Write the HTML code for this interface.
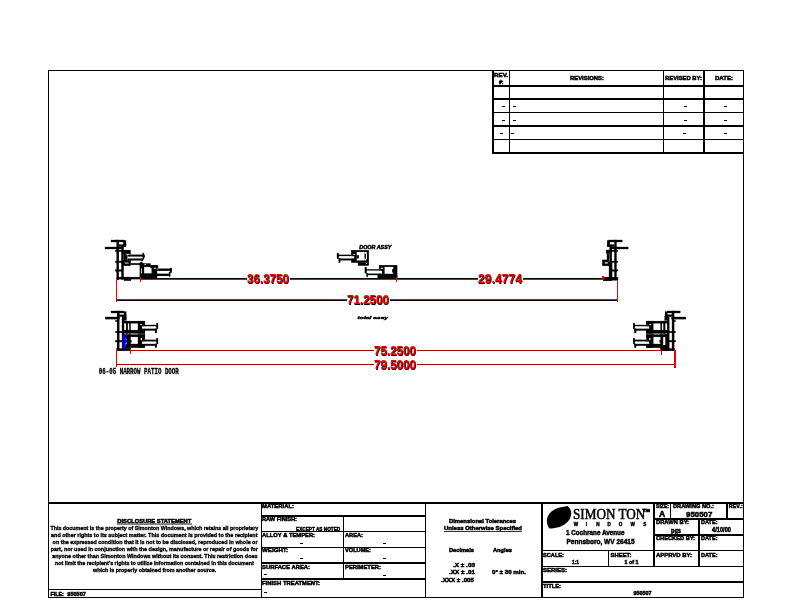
<!DOCTYPE html>
<html><head><meta charset="utf-8"><title>950507</title>
<style>
html,body{margin:0;padding:0;background:#fff;}
body{width:792px;height:612px;overflow:hidden;font-family:"Liberation Sans",sans-serif;}
svg{display:block;filter:contrast(1);}

</style></head><body>
<svg width="792" height="612" viewBox="0 0 792 612">
<rect x="0" y="0" width="792" height="612" fill="#fff"/>
<g shape-rendering="crispEdges">
<rect x="48" y="70" width="1" height="528" fill="#000" />
<rect x="743" y="70" width="1" height="528" fill="#000" />
<rect x="48" y="70" width="696" height="1" fill="#000" />
<rect x="48" y="597" width="696" height="1" fill="#000" />
<rect x="48" y="502" width="696" height="2" fill="#000" />
<rect x="48" y="589" width="213" height="1" fill="#000" />
<rect x="261" y="502" width="1" height="95" fill="#000" />
<rect x="261" y="515" width="164" height="2" fill="#000" />
<rect x="261" y="531" width="164" height="1" fill="#000" />
<rect x="261" y="547" width="164" height="1" fill="#000" />
<rect x="261" y="562" width="164" height="2" fill="#000" />
<rect x="261" y="578" width="164" height="2" fill="#000" />
<rect x="343" y="515" width="1" height="64" fill="#000" />
<rect x="425" y="502" width="1" height="95" fill="#000" />
<rect x="541" y="502" width="2" height="95" fill="#000" />
<rect x="541" y="550" width="203" height="1" fill="#000" />
<rect x="541" y="566" width="203" height="1" fill="#000" />
<rect x="541" y="581" width="203" height="2" fill="#000" />
<rect x="608" y="550" width="1" height="16" fill="#000" />
<rect x="653" y="502" width="2" height="65" fill="#000" />
<rect x="653" y="518" width="91" height="2" fill="#000" />
<rect x="653" y="534" width="91" height="2" fill="#000" />
<rect x="670" y="502" width="1" height="16" fill="#000" />
<rect x="726" y="502" width="2" height="16" fill="#000" />
<rect x="698" y="518" width="2" height="49" fill="#000" />
<rect x="492" y="70" width="2" height="83" fill="#000" />
<rect x="509" y="70" width="1" height="83" fill="#000" />
<rect x="663" y="70" width="1" height="83" fill="#000" />
<rect x="703" y="70" width="2" height="83" fill="#000" />
<rect x="492" y="85" width="252" height="2" fill="#000" />
<rect x="492" y="98" width="252" height="2" fill="#000" />
<rect x="492" y="112" width="252" height="1" fill="#000" />
<rect x="492" y="125" width="252" height="2" fill="#000" />
<rect x="492" y="139" width="252" height="1" fill="#000" />
<rect x="492" y="152" width="252" height="2" fill="#000" />
</g>
<text x="262" y="507.6" font-size="6" font-weight="bold" text-anchor="start" fill="#000" style="font-family:&quot;Liberation Sans&quot;" textLength="32" lengthAdjust="spacingAndGlyphs" stroke="#000" stroke-width="0.5" >MATERIAL:</text>
<text x="262" y="520.7" font-size="6" font-weight="bold" text-anchor="start" fill="#000" style="font-family:&quot;Liberation Sans&quot;" textLength="35" lengthAdjust="spacingAndGlyphs" stroke="#000" stroke-width="0.5" >RAW FINISH:</text>
<text x="296" y="531.2" font-size="6" font-weight="bold" text-anchor="start" fill="#000" style="font-family:&quot;Liberation Sans&quot;" textLength="44.2" lengthAdjust="spacingAndGlyphs" stroke="#000" stroke-width="0.5" >EXCEPT AS NOTED</text>
<text x="262" y="536.7" font-size="6" font-weight="bold" text-anchor="start" fill="#000" style="font-family:&quot;Liberation Sans&quot;" textLength="53" lengthAdjust="spacingAndGlyphs" stroke="#000" stroke-width="0.5" >ALLOY &amp; TEMPER:</text>
<text x="262" y="552.2" font-size="6" font-weight="bold" text-anchor="start" fill="#000" style="font-family:&quot;Liberation Sans&quot;" textLength="26" lengthAdjust="spacingAndGlyphs" stroke="#000" stroke-width="0.5" >WEIGHT:</text>
<text x="262" y="568.6" font-size="6" font-weight="bold" text-anchor="start" fill="#000" style="font-family:&quot;Liberation Sans&quot;" textLength="48" lengthAdjust="spacingAndGlyphs" stroke="#000" stroke-width="0.5" >SURFACE AREA:</text>
<text x="262" y="584.8" font-size="6" font-weight="bold" text-anchor="start" fill="#000" style="font-family:&quot;Liberation Sans&quot;" textLength="58" lengthAdjust="spacingAndGlyphs" stroke="#000" stroke-width="0.5" >FINISH TREATMENT:</text>
<text x="345" y="536.7" font-size="6" font-weight="bold" text-anchor="start" fill="#000" style="font-family:&quot;Liberation Sans&quot;" textLength="18" lengthAdjust="spacingAndGlyphs" stroke="#000" stroke-width="0.5" >AREA:</text>
<text x="345" y="552.2" font-size="6" font-weight="bold" text-anchor="start" fill="#000" style="font-family:&quot;Liberation Sans&quot;" textLength="26" lengthAdjust="spacingAndGlyphs" stroke="#000" stroke-width="0.5" >VOLUME:</text>
<text x="345" y="568.6" font-size="6" font-weight="bold" text-anchor="start" fill="#000" style="font-family:&quot;Liberation Sans&quot;" textLength="36" lengthAdjust="spacingAndGlyphs" stroke="#000" stroke-width="0.5" >PERIMETER:</text>
<rect x="300" y="543" width="3" height="1" fill="#000" shape-rendering="crispEdges"/>
<rect x="300" y="558" width="3" height="1" fill="#000" shape-rendering="crispEdges"/>
<rect x="264" y="574" width="3" height="1" fill="#000" shape-rendering="crispEdges"/>
<rect x="264" y="592" width="3" height="1" fill="#000" shape-rendering="crispEdges"/>
<rect x="383" y="543" width="3" height="1" fill="#000" shape-rendering="crispEdges"/>
<rect x="383" y="558" width="3" height="1" fill="#000" shape-rendering="crispEdges"/>
<rect x="383" y="575" width="3" height="1" fill="#000" shape-rendering="crispEdges"/>
<text x="117.3" y="522.7" font-size="5.6" font-weight="bold" text-anchor="start" fill="#000" style="font-family:&quot;Liberation Sans&quot;" textLength="74" lengthAdjust="spacingAndGlyphs" stroke="#000" stroke-width="0.5" >DISCLOSURE STATEMENT</text>
<rect x="117" y="523.6" width="75" height="0.9" fill="#000" />
<text x="50.4" y="529.8" font-size="6" font-weight="bold" text-anchor="start" fill="#000" style="font-family:&quot;Liberation Sans&quot;" textLength="207.8" lengthAdjust="spacingAndGlyphs" stroke="#000" stroke-width="0.35" >This document is the property of Simonton Windows, which retains all proprietary</text>
<text x="51.1" y="536.9" font-size="6" font-weight="bold" text-anchor="start" fill="#000" style="font-family:&quot;Liberation Sans&quot;" textLength="206.4" lengthAdjust="spacingAndGlyphs" stroke="#000" stroke-width="0.35" >and other rights to its subject matter.  This document is provided to the recipient</text>
<text x="52.6" y="544.0" font-size="6" font-weight="bold" text-anchor="start" fill="#000" style="font-family:&quot;Liberation Sans&quot;" textLength="204.9" lengthAdjust="spacingAndGlyphs" stroke="#000" stroke-width="0.35" >on the expressed condition that it is not to be disclosed, reproduced in whole or</text>
<text x="50.7" y="551.1" font-size="6" font-weight="bold" text-anchor="start" fill="#000" style="font-family:&quot;Liberation Sans&quot;" textLength="207.2" lengthAdjust="spacingAndGlyphs" stroke="#000" stroke-width="0.35" >part, nor used in conjunction with the design, manufacture or repair of goods for</text>
<text x="52.2" y="558.2" font-size="6" font-weight="bold" text-anchor="start" fill="#000" style="font-family:&quot;Liberation Sans&quot;" textLength="205.3" lengthAdjust="spacingAndGlyphs" stroke="#000" stroke-width="0.35" >anyone other than Simonton Windows without its consent.  This restriction does</text>
<text x="55.1" y="565.3" font-size="6" font-weight="bold" text-anchor="start" fill="#000" style="font-family:&quot;Liberation Sans&quot;" textLength="198.7" lengthAdjust="spacingAndGlyphs" stroke="#000" stroke-width="0.35" >not limit the recipient's rights to utilize information contained in this document</text>
<text x="93" y="572.4" font-size="6" font-weight="bold" text-anchor="start" fill="#000" style="font-family:&quot;Liberation Sans&quot;" textLength="123.3" lengthAdjust="spacingAndGlyphs" stroke="#000" stroke-width="0.35" >which is properly obtained from another source.</text>
<text x="50.4" y="595.8" font-size="5.6" font-weight="bold" text-anchor="start" fill="#000" style="font-family:&quot;Liberation Sans&quot;" textLength="13.5" lengthAdjust="spacingAndGlyphs" stroke="#000" stroke-width="0.5" >FILE:</text>
<text x="67.3" y="595.8" font-size="5.2" font-weight="bold" text-anchor="start" fill="#000" style="font-family:&quot;Liberation Sans&quot;" textLength="18.5" lengthAdjust="spacingAndGlyphs" stroke="#000" stroke-width="0.5" >950507</text>
<text x="482.5" y="522.5" font-size="6" font-weight="bold" text-anchor="middle" fill="#000" style="font-family:&quot;Liberation Sans&quot;" textLength="67" lengthAdjust="spacingAndGlyphs" stroke="#000" stroke-width="0.5" >Dimensional Tolerances</text>
<text x="483" y="530" font-size="6" font-weight="bold" text-anchor="middle" fill="#000" style="font-family:&quot;Liberation Sans&quot;" textLength="78" lengthAdjust="spacingAndGlyphs" stroke="#000" stroke-width="0.5" >Unless Otherwise Specified</text>
<rect x="444" y="531" width="78" height="0.8" fill="#000" />
<text x="449" y="552" font-size="6" font-weight="bold" text-anchor="start" fill="#000" style="font-family:&quot;Liberation Sans&quot;" textLength="25" lengthAdjust="spacingAndGlyphs" stroke="#000" stroke-width="0.5" >Decimals</text>
<text x="493" y="552" font-size="6" font-weight="bold" text-anchor="start" fill="#000" style="font-family:&quot;Liberation Sans&quot;" textLength="19" lengthAdjust="spacingAndGlyphs" stroke="#000" stroke-width="0.5" >Angles</text>
<text x="475" y="567" font-size="6" font-weight="bold" text-anchor="end" fill="#000" style="font-family:&quot;Liberation Sans&quot;" textLength="22" lengthAdjust="spacingAndGlyphs" stroke="#000" stroke-width="0.5" >.X ± .03</text>
<text x="475" y="573.5" font-size="6" font-weight="bold" text-anchor="end" fill="#000" style="font-family:&quot;Liberation Sans&quot;" textLength="26" lengthAdjust="spacingAndGlyphs" stroke="#000" stroke-width="0.5" >.XX ± .01</text>
<text x="474" y="582" font-size="6" font-weight="bold" text-anchor="end" fill="#000" style="font-family:&quot;Liberation Sans&quot;" textLength="33" lengthAdjust="spacingAndGlyphs" stroke="#000" stroke-width="0.5" >.XXX ± .005</text>
<text x="492" y="574" font-size="6" font-weight="bold" text-anchor="start" fill="#000" style="font-family:&quot;Liberation Sans&quot;" textLength="34" lengthAdjust="spacingAndGlyphs" stroke="#000" stroke-width="0.5" >0° ± 30 min.</text>
<path d="M567.6,506 C570,508 571.6,511 571.2,514 C570.8,518 569,520.5 567.2,522.2 C564,525.2 560.5,526.8 557,527.6 C554,528.3 551.5,528.9 549.4,528.4 C547.3,526 546.6,522.5 547,519.2 C547.5,516.5 548.5,514.6 549.8,513.2 C552,510.8 554.5,509.3 557.2,508.3 C560.5,507 564,506.8 567.6,506 Z" fill="#000"/>
<text x="573" y="519.3" font-size="14" font-weight="normal" text-anchor="start" fill="#000" style="font-family:&quot;Liberation Serif&quot;" textLength="72.3" lengthAdjust="spacingAndGlyphs" stroke="#000" stroke-width="0.5" >SIMON TON</text>
<text x="643.6" y="511.9" font-size="3.6" font-weight="bold" text-anchor="start" fill="#000" style="font-family:&quot;Liberation Sans&quot;" textLength="6.4" lengthAdjust="spacingAndGlyphs" stroke="#000" stroke-width="0.5" >TM</text>
<text x="575.9" y="525.8" font-size="4.6" font-weight="bold" text-anchor="middle" fill="#000" style="font-family:&quot;Liberation Sans&quot;" stroke="#000" stroke-width="0.4" >W</text>
<text x="586.5" y="525.8" font-size="4.6" font-weight="bold" text-anchor="middle" fill="#000" style="font-family:&quot;Liberation Sans&quot;" stroke="#000" stroke-width="0.4" >I</text>
<text x="597.8" y="525.8" font-size="4.6" font-weight="bold" text-anchor="middle" fill="#000" style="font-family:&quot;Liberation Sans&quot;" stroke="#000" stroke-width="0.4" >N</text>
<text x="609.2" y="525.8" font-size="4.6" font-weight="bold" text-anchor="middle" fill="#000" style="font-family:&quot;Liberation Sans&quot;" stroke="#000" stroke-width="0.4" >D</text>
<text x="620.6" y="525.8" font-size="4.6" font-weight="bold" text-anchor="middle" fill="#000" style="font-family:&quot;Liberation Sans&quot;" stroke="#000" stroke-width="0.4" >O</text>
<text x="632.7" y="525.8" font-size="4.6" font-weight="bold" text-anchor="middle" fill="#000" style="font-family:&quot;Liberation Sans&quot;" stroke="#000" stroke-width="0.4" >W</text>
<text x="644.8" y="525.8" font-size="4.6" font-weight="bold" text-anchor="middle" fill="#000" style="font-family:&quot;Liberation Sans&quot;" stroke="#000" stroke-width="0.4" >S</text>
<text x="566" y="535.2" font-size="7.2" font-weight="bold" text-anchor="start" fill="#000" style="font-family:&quot;Liberation Sans&quot;" textLength="58.5" lengthAdjust="spacingAndGlyphs" stroke="#000" stroke-width="0.5" >1 Cochrane Avenue</text>
<text x="566.5" y="544.1" font-size="7.2" font-weight="bold" text-anchor="start" fill="#000" style="font-family:&quot;Liberation Sans&quot;" textLength="68" lengthAdjust="spacingAndGlyphs" stroke="#000" stroke-width="0.5" >Pennsboro, WV 26415</text>
<text x="543" y="557" font-size="6" font-weight="bold" text-anchor="start" fill="#000" style="font-family:&quot;Liberation Sans&quot;" textLength="21" lengthAdjust="spacingAndGlyphs" stroke="#000" stroke-width="0.5" >SCALE:</text>
<text x="572" y="563.9" font-size="6" font-weight="bold" text-anchor="start" fill="#000" style="font-family:&quot;Liberation Sans&quot;" textLength="7" lengthAdjust="spacingAndGlyphs" stroke="#000" stroke-width="0.5" >1:1</text>
<text x="610.5" y="557" font-size="6" font-weight="bold" text-anchor="start" fill="#000" style="font-family:&quot;Liberation Sans&quot;" textLength="21" lengthAdjust="spacingAndGlyphs" stroke="#000" stroke-width="0.5" >SHEET:</text>
<text x="624.5" y="563.9" font-size="6" font-weight="bold" text-anchor="start" fill="#000" style="font-family:&quot;Liberation Sans&quot;" textLength="14" lengthAdjust="spacingAndGlyphs" stroke="#000" stroke-width="0.5" >1 of 1</text>
<text x="543" y="571.9" font-size="6" font-weight="bold" text-anchor="start" fill="#000" style="font-family:&quot;Liberation Sans&quot;" textLength="24" lengthAdjust="spacingAndGlyphs" stroke="#000" stroke-width="0.5" >SERIES:</text>
<text x="543" y="587.7" font-size="6" font-weight="bold" text-anchor="start" fill="#000" style="font-family:&quot;Liberation Sans&quot;" textLength="18" lengthAdjust="spacingAndGlyphs" stroke="#000" stroke-width="0.5" >TITLE:</text>
<text x="633.5" y="595" font-size="5.5" font-weight="bold" text-anchor="start" fill="#000" style="font-family:&quot;Liberation Sans&quot;" textLength="18" lengthAdjust="spacingAndGlyphs" stroke="#000" stroke-width="0.5" >950507</text>
<text x="656" y="507.8" font-size="6" font-weight="bold" text-anchor="start" fill="#000" style="font-family:&quot;Liberation Sans&quot;" textLength="13" lengthAdjust="spacingAndGlyphs" stroke="#000" stroke-width="0.5" >SIZE:</text>
<text x="659" y="517" font-size="8.2" font-weight="bold" text-anchor="start" fill="#000" style="font-family:&quot;Liberation Sans&quot;" textLength="6.2" lengthAdjust="spacingAndGlyphs" stroke="#000" stroke-width="0.5" >A</text>
<text x="673" y="507.8" font-size="6" font-weight="bold" text-anchor="start" fill="#000" style="font-family:&quot;Liberation Sans&quot;" textLength="41" lengthAdjust="spacingAndGlyphs" stroke="#000" stroke-width="0.5" >DRAWING NO.:</text>
<text x="686" y="516.7" font-size="7.6" font-weight="bold" text-anchor="start" fill="#000" style="font-family:&quot;Liberation Sans&quot;" textLength="26.3" lengthAdjust="spacingAndGlyphs" stroke="#000" stroke-width="0.5" >950507</text>
<text x="728.8" y="507.8" font-size="6" font-weight="bold" text-anchor="start" fill="#000" style="font-family:&quot;Liberation Sans&quot;" textLength="14" lengthAdjust="spacingAndGlyphs" stroke="#000" stroke-width="0.5" >REV.:</text>
<text x="656" y="524" font-size="6" font-weight="bold" text-anchor="start" fill="#000" style="font-family:&quot;Liberation Sans&quot;" textLength="33" lengthAdjust="spacingAndGlyphs" stroke="#000" stroke-width="0.5" >DRAWN BY:</text>
<text x="671" y="533" font-size="6.5" font-weight="bold" text-anchor="start" fill="#000" style="font-family:&quot;Liberation Sans&quot;" textLength="10" lengthAdjust="spacingAndGlyphs" stroke="#000" stroke-width="0.5" >pgs</text>
<text x="701" y="524" font-size="6" font-weight="bold" text-anchor="start" fill="#000" style="font-family:&quot;Liberation Sans&quot;" textLength="16.5" lengthAdjust="spacingAndGlyphs" stroke="#000" stroke-width="0.5" >DATE:</text>
<text x="712" y="531.8" font-size="6.3" font-weight="bold" text-anchor="start" fill="#000" style="font-family:&quot;Liberation Sans&quot;" textLength="19" lengthAdjust="spacingAndGlyphs" stroke="#000" stroke-width="0.5" >4/10/00</text>
<text x="656" y="540.4" font-size="6" font-weight="bold" text-anchor="start" fill="#000" style="font-family:&quot;Liberation Sans&quot;" textLength="39" lengthAdjust="spacingAndGlyphs" stroke="#000" stroke-width="0.5" >CHECKED BY:</text>
<text x="701" y="540.4" font-size="6" font-weight="bold" text-anchor="start" fill="#000" style="font-family:&quot;Liberation Sans&quot;" textLength="16.5" lengthAdjust="spacingAndGlyphs" stroke="#000" stroke-width="0.5" >DATE:</text>
<text x="656" y="556.7" font-size="6" font-weight="bold" text-anchor="start" fill="#000" style="font-family:&quot;Liberation Sans&quot;" textLength="36" lengthAdjust="spacingAndGlyphs" stroke="#000" stroke-width="0.5" >APPRVD BY:</text>
<text x="701" y="556.7" font-size="6" font-weight="bold" text-anchor="start" fill="#000" style="font-family:&quot;Liberation Sans&quot;" textLength="16.5" lengthAdjust="spacingAndGlyphs" stroke="#000" stroke-width="0.5" >DATE:</text>
<text x="494" y="76.5" font-size="6" font-weight="bold" text-anchor="start" fill="#000" style="font-family:&quot;Liberation Sans&quot;" textLength="14" lengthAdjust="spacingAndGlyphs" stroke="#000" stroke-width="0.5" >REV.</text>
<text x="499" y="83.5" font-size="6" font-weight="bold" text-anchor="start" fill="#000" style="font-family:&quot;Liberation Sans&quot;" textLength="4.5" lengthAdjust="spacingAndGlyphs" stroke="#000" stroke-width="0.5" >#:</text>
<text x="570" y="79.5" font-size="6" font-weight="bold" text-anchor="start" fill="#000" style="font-family:&quot;Liberation Sans&quot;" textLength="34" lengthAdjust="spacingAndGlyphs" stroke="#000" stroke-width="0.5" >REVISIONS:</text>
<text x="665" y="79.5" font-size="6" font-weight="bold" text-anchor="start" fill="#000" style="font-family:&quot;Liberation Sans&quot;" textLength="37" lengthAdjust="spacingAndGlyphs" stroke="#000" stroke-width="0.5" >REVISED BY:</text>
<text x="715" y="79.5" font-size="6" font-weight="bold" text-anchor="start" fill="#000" style="font-family:&quot;Liberation Sans&quot;" textLength="18" lengthAdjust="spacingAndGlyphs" stroke="#000" stroke-width="0.5" >DATE:</text>
<rect x="502" y="106" width="3" height="1" fill="#000" shape-rendering="crispEdges"/>
<rect x="513" y="106" width="3" height="1" fill="#000" shape-rendering="crispEdges"/>
<rect x="502" y="120" width="3" height="1" fill="#000" shape-rendering="crispEdges"/>
<rect x="513" y="120" width="3" height="1" fill="#000" shape-rendering="crispEdges"/>
<rect x="500" y="133" width="3" height="1" fill="#000" shape-rendering="crispEdges"/>
<rect x="511" y="133" width="3" height="1" fill="#000" shape-rendering="crispEdges"/>
<rect x="684" y="106" width="3" height="1" fill="#000" shape-rendering="crispEdges"/>
<rect x="724" y="106" width="3" height="1" fill="#000" shape-rendering="crispEdges"/>
<rect x="684" y="120" width="3" height="1" fill="#000" shape-rendering="crispEdges"/>
<rect x="724" y="120" width="3" height="1" fill="#000" shape-rendering="crispEdges"/>
<rect x="683" y="133" width="3" height="1" fill="#000" shape-rendering="crispEdges"/>
<rect x="724" y="133" width="3" height="1" fill="#000" shape-rendering="crispEdges"/>
<rect x="111" y="240" width="13.5" height="2" fill="#000" stroke="#000" stroke-width="0.3"/>
<rect x="123.3" y="240.6" width="2.7" height="6.0" fill="#000" stroke="#000" stroke-width="0.3"/>
<rect x="119" y="244.6" width="7" height="2.0" fill="#000" stroke="#000" stroke-width="0.3"/>
<rect x="105" y="247" width="16.6" height="2" fill="#000" stroke="#000" stroke-width="0.3"/>
<rect x="116.7" y="240" width="2.1" height="40" fill="#000" stroke="#000" stroke-width="0.3"/>
<rect x="121.4" y="245" width="2.2" height="34.4" fill="#000" stroke="#000" stroke-width="0.3"/>
<rect x="115.4" y="250.1" width="7.6" height="1.6" fill="#000" stroke="#000" stroke-width="0.3"/>
<rect x="115.4" y="261" width="7.6" height="1.6" fill="#000" stroke="#000" stroke-width="0.3"/>
<rect x="115.4" y="269.7" width="6.6" height="1.6" fill="#000" stroke="#000" stroke-width="0.3"/>
<rect x="116.9" y="277.1" width="24.1" height="2.0" fill="#000" stroke="#000" stroke-width="0.3"/>
<rect x="123.9" y="277.1" width="7.1" height="3.6" fill="#000" stroke="#000" stroke-width="0.3"/>
<rect x="122" y="250.1" width="8.6" height="3.9" fill="#000" stroke="#000" stroke-width="0.3"/>
<rect x="124" y="253.6" width="3.3" height="7.9" fill="#000" stroke="#000" stroke-width="0.3"/>
<rect x="128" y="254.8" width="16" height="1.6" fill="#000" stroke="#000" stroke-width="0.3"/>
<rect x="128" y="258.7" width="14.8" height="1.6" fill="#000" stroke="#000" stroke-width="0.3"/>
<rect x="142.8" y="253" width="1.2" height="6.5" fill="#000" stroke="#000" stroke-width="0.3"/>
<rect x="144" y="255.2" width="0.8" height="2.2" fill="#000" stroke="#000" stroke-width="0.3"/>
<rect x="141.6" y="259" width="1.2" height="2.2" fill="#000" stroke="#000" stroke-width="0.3"/>
<rect x="122" y="260.3" width="8.6" height="5.5" fill="#000" stroke="#000" stroke-width="0.3"/>
<rect x="124.7" y="262.6" width="4.0" height="0.9" fill="#fff"/>
<rect x="125.9" y="253.9" width="3.1" height="0.8" fill="#fff"/>
<rect x="130.6" y="263.3" width="10.4" height="1.5" fill="#000" stroke="#000" stroke-width="0.3"/>
<rect x="125.2" y="254.2" width="1.1" height="1.0" fill="#b000b0"/>
<rect x="140" y="262.3" width="2.4" height="16.7" fill="#000" stroke="#000" stroke-width="0.3"/>
<rect x="140" y="263.5" width="10.5" height="3.4" fill="#000" stroke="#000" stroke-width="0.3"/>
<rect x="150.5" y="265.3" width="7.5" height="2.7" fill="#000" stroke="#000" stroke-width="0.3"/>
<rect x="140" y="263.7" width="4" height="14.5" fill="#000" stroke="#000" stroke-width="0.3"/>
<rect x="141.2" y="268.4" width="0.8" height="5.6" fill="#fff"/>
<rect x="151.8" y="265.3" width="5.2" height="10.7" fill="#000" stroke="#000" stroke-width="0.3"/>
<rect x="140" y="273.5" width="17" height="4.7" fill="#000" stroke="#000" stroke-width="0.3"/>
<rect x="157" y="268.8" width="14.4" height="2.0" fill="#000" stroke="#000" stroke-width="0.3"/>
<rect x="157" y="273.9" width="12.8" height="2.0" fill="#000" stroke="#000" stroke-width="0.3"/>
<rect x="170" y="268" width="1.8" height="4.7" fill="#000" stroke="#000" stroke-width="0.3"/>
<rect x="169" y="272.7" width="1.2" height="4.0" fill="#000" stroke="#000" stroke-width="0.3"/>
<rect x="144.3" y="264.2" width="1.7" height="0.8" fill="#fff"/>
<rect x="154" y="267.8" width="2" height="0.9" fill="#fff"/>
<rect x="157" y="269" width="1.2" height="1" fill="#b000b0"/>
<rect x="608.7" y="240" width="13.5" height="2" fill="#000" stroke="#000" stroke-width="0.3"/>
<rect x="607.2" y="240.6" width="2.7" height="6.0" fill="#000" stroke="#000" stroke-width="0.3"/>
<rect x="607.2" y="244.6" width="7.0" height="2.0" fill="#000" stroke="#000" stroke-width="0.3"/>
<rect x="611.6" y="247" width="16.6" height="2" fill="#000" stroke="#000" stroke-width="0.3"/>
<rect x="614.4" y="240" width="2.1" height="40" fill="#000" stroke="#000" stroke-width="0.3"/>
<rect x="609.6" y="245" width="2.2" height="18" fill="#000" stroke="#000" stroke-width="0.3"/>
<rect x="610.2" y="250.1" width="7.6" height="1.6" fill="#000" stroke="#000" stroke-width="0.3"/>
<rect x="610.2" y="261" width="7.6" height="1.6" fill="#000" stroke="#000" stroke-width="0.3"/>
<rect x="611.2" y="269.7" width="6.6" height="1.6" fill="#000" stroke="#000" stroke-width="0.3"/>
<rect x="606.2" y="250" width="4.8" height="3.6" fill="#000" stroke="#000" stroke-width="0.3"/>
<rect x="607" y="253.6" width="2" height="6.7" fill="#000" stroke="#000" stroke-width="0.3"/>
<rect x="602.3" y="259.9" width="6.7" height="5.9" fill="#000" stroke="#000" stroke-width="0.3"/>
<rect x="604.7" y="262.3" width="3.1" height="1.2" fill="#fff"/>
<rect x="609" y="262.7" width="3.1" height="16.4" fill="#000" stroke="#000" stroke-width="0.3"/>
<rect x="603.1" y="277.2" width="14.9" height="3.0" fill="#000" stroke="#000" stroke-width="0.3"/>
<rect x="603.1" y="277.2" width="8.9" height="3.6" fill="#000" stroke="#000" stroke-width="0.3"/>
<rect x="111" y="311" width="13" height="2" fill="#000" stroke="#000" stroke-width="0.3"/>
<rect x="124" y="311.7" width="2.1" height="4.9" fill="#000" stroke="#000" stroke-width="0.3"/>
<rect x="119.2" y="314.8" width="6.9" height="1.8" fill="#000" stroke="#000" stroke-width="0.3"/>
<rect x="124" y="316.6" width="2.5" height="3.9" fill="#000" stroke="#000" stroke-width="0.3"/>
<rect x="105.3" y="317" width="14.3" height="2.1" fill="#000" stroke="#000" stroke-width="0.3"/>
<rect x="117.1" y="311" width="2.1" height="39.6" fill="#000" stroke="#000" stroke-width="0.3"/>
<rect x="122" y="316.6" width="2" height="33.4" fill="#000" stroke="#000" stroke-width="0.3"/>
<rect x="124" y="321.1" width="20.9" height="2.1" fill="#000" stroke="#000" stroke-width="0.3"/>
<rect x="126.1" y="321.1" width="1.7" height="12.3" fill="#000" stroke="#000" stroke-width="0.3"/>
<rect x="129.3" y="321.1" width="1.3" height="12.3" fill="#000" stroke="#000" stroke-width="0.3"/>
<rect x="138" y="321.1" width="6.9" height="12.3" fill="#000" stroke="#000" stroke-width="0.3"/>
<rect x="140" y="324.2" width="2" height="0.8" fill="#fff"/>
<rect x="124" y="330.1" width="20.9" height="3.3" fill="#000" stroke="#000" stroke-width="0.3"/>
<rect x="115.5" y="331.3" width="11.0" height="1.5" fill="#000" stroke="#000" stroke-width="0.3"/>
<rect x="115.5" y="320.3" width="2.5" height="1.3" fill="#000" stroke="#000" stroke-width="0.3"/>
<rect x="142" y="325" width="15.6" height="1.4" fill="#000" stroke="#000" stroke-width="0.3"/>
<rect x="142" y="326.4" width="14.4" height="2.5" fill="#fff"/>
<rect x="142" y="328.9" width="14.4" height="1.6" fill="#000" stroke="#000" stroke-width="0.3"/>
<rect x="156.4" y="323.2" width="1.6" height="5.7" fill="#000" stroke="#000" stroke-width="0.3"/>
<rect x="155.1" y="328.9" width="1.7" height="4.1" fill="#000" stroke="#000" stroke-width="0.3"/>
<rect x="126.5" y="334.6" width="18.4" height="2.3" fill="#000" stroke="#000" stroke-width="0.3"/>
<rect x="124" y="334.6" width="6.6" height="13.9" fill="#000" stroke="#000" stroke-width="0.3"/>
<rect x="138" y="334.6" width="6.9" height="13.1" fill="#000" stroke="#000" stroke-width="0.3"/>
<rect x="129.8" y="344" width="14.7" height="3.7" fill="#000" stroke="#000" stroke-width="0.3"/>
<rect x="129.6" y="340.5" width="1.9" height="1.9" fill="#000" stroke="#000" stroke-width="0.3"/>
<rect x="140.8" y="337.9" width="1.2" height="2.4" fill="#fff"/>
<rect x="142" y="339.9" width="15.6" height="1.7" fill="#000" stroke="#000" stroke-width="0.3"/>
<rect x="142" y="341.6" width="14.4" height="2.4" fill="#fff"/>
<rect x="142" y="344" width="14.4" height="1.7" fill="#000" stroke="#000" stroke-width="0.3"/>
<rect x="156.4" y="338.3" width="1.6" height="5.7" fill="#000" stroke="#000" stroke-width="0.3"/>
<rect x="155.1" y="344" width="1.7" height="3.7" fill="#000" stroke="#000" stroke-width="0.3"/>
<rect x="115.5" y="340.3" width="6.9" height="1.7" fill="#000" stroke="#000" stroke-width="0.3"/>
<rect x="116.7" y="348.5" width="13.9" height="2.3" fill="#000" stroke="#000" stroke-width="0.3"/>
<rect x="143.3" y="325.1" width="1.1" height="1.0" fill="#b000b0"/>
<rect x="143.6" y="339.4" width="1.1" height="1.0" fill="#b000b0"/>
<path d="M124.5,336.5 Q129.6,341.5 124.5,346.6 Z" fill="#fff"/>
<path d="M122.4,334.6 L125.3,334.6 L125.8,339.5 L127,340.2 L127,342.4 L125.6,343 L125.9,347 L125.2,348.5 L122.4,348.5 Z" fill="#0000e8"/>
<rect x="667.2" y="311" width="13.0" height="2" fill="#000" stroke="#000" stroke-width="0.3"/>
<rect x="665.1" y="311.7" width="2.1" height="4.9" fill="#000" stroke="#000" stroke-width="0.3"/>
<rect x="665.1" y="314.8" width="6.9" height="1.8" fill="#000" stroke="#000" stroke-width="0.3"/>
<rect x="664.7" y="316.6" width="2.5" height="3.9" fill="#000" stroke="#000" stroke-width="0.3"/>
<rect x="671.6" y="317" width="14.3" height="2.1" fill="#000" stroke="#000" stroke-width="0.3"/>
<rect x="672.0" y="311" width="2.1" height="39.6" fill="#000" stroke="#000" stroke-width="0.3"/>
<rect x="667.2" y="316.6" width="2.0" height="33.4" fill="#000" stroke="#000" stroke-width="0.3"/>
<rect x="646.3" y="321.1" width="20.9" height="2.1" fill="#000" stroke="#000" stroke-width="0.3"/>
<rect x="663.4" y="321.1" width="1.7" height="12.3" fill="#000" stroke="#000" stroke-width="0.3"/>
<rect x="660.6" y="321.1" width="1.3" height="12.3" fill="#000" stroke="#000" stroke-width="0.3"/>
<rect x="646.3" y="321.1" width="6.9" height="12.3" fill="#000" stroke="#000" stroke-width="0.3"/>
<rect x="649.2" y="324.2" width="2.0" height="0.8" fill="#fff"/>
<rect x="646.3" y="330.1" width="20.9" height="3.3" fill="#000" stroke="#000" stroke-width="0.3"/>
<rect x="664.7" y="331.3" width="11.0" height="1.5" fill="#000" stroke="#000" stroke-width="0.3"/>
<rect x="673.2" y="320.3" width="2.5" height="1.3" fill="#000" stroke="#000" stroke-width="0.3"/>
<rect x="633.6" y="325" width="15.6" height="1.4" fill="#000" stroke="#000" stroke-width="0.3"/>
<rect x="634.8" y="326.4" width="14.4" height="2.5" fill="#fff"/>
<rect x="634.8" y="328.9" width="14.4" height="1.6" fill="#000" stroke="#000" stroke-width="0.3"/>
<rect x="633.2" y="323.2" width="1.6" height="5.7" fill="#000" stroke="#000" stroke-width="0.3"/>
<rect x="634.4" y="328.9" width="1.7" height="4.1" fill="#000" stroke="#000" stroke-width="0.3"/>
<rect x="646.3" y="334.6" width="18.4" height="2.3" fill="#000" stroke="#000" stroke-width="0.3"/>
<rect x="660.6" y="334.6" width="6.6" height="13.9" fill="#000" stroke="#000" stroke-width="0.3"/>
<rect x="646.3" y="334.6" width="6.9" height="13.1" fill="#000" stroke="#000" stroke-width="0.3"/>
<rect x="646.7" y="344" width="14.7" height="3.7" fill="#000" stroke="#000" stroke-width="0.3"/>
<rect x="659.7" y="340.5" width="1.9" height="1.9" fill="#000" stroke="#000" stroke-width="0.3"/>
<rect x="649.2" y="337.9" width="1.2" height="2.4" fill="#fff"/>
<rect x="633.6" y="339.9" width="15.6" height="1.7" fill="#000" stroke="#000" stroke-width="0.3"/>
<rect x="634.8" y="341.6" width="14.4" height="2.4" fill="#fff"/>
<rect x="634.8" y="344" width="14.4" height="1.7" fill="#000" stroke="#000" stroke-width="0.3"/>
<rect x="633.2" y="338.3" width="1.6" height="5.7" fill="#000" stroke="#000" stroke-width="0.3"/>
<rect x="634.4" y="344" width="1.7" height="3.7" fill="#000" stroke="#000" stroke-width="0.3"/>
<rect x="668.8" y="340.3" width="6.9" height="1.7" fill="#000" stroke="#000" stroke-width="0.3"/>
<rect x="660.6" y="348.5" width="13.9" height="2.3" fill="#000" stroke="#000" stroke-width="0.3"/>
<rect x="646.8" y="325.1" width="1.1" height="1.0" fill="#b000b0"/>
<rect x="646.5" y="339.4" width="1.1" height="1.0" fill="#b000b0"/>
<path d="M666.7,336.5 Q661.6,341.5 666.7,346.6 Z" fill="#fff"/>
<rect x="665.2" y="334.6" width="3.6" height="13.9" fill="#000" stroke="#000" stroke-width="0.3"/>
<rect x="663.2" y="337" width="2.0" height="8" fill="#fff"/>
<rect x="661" y="345.5" width="7.8" height="5.3" fill="#000" stroke="#000" stroke-width="0.3"/>
<rect x="351.2" y="250.2" width="17.6" height="12.4" fill="#000" stroke="#000" stroke-width="0.3"/>
<rect x="358" y="262.6" width="10.8" height="3.0" fill="#000" stroke="#000" stroke-width="0.3"/>
<rect x="366.2" y="263" width="0.8" height="0.9" fill="#fff"/>
<rect x="356.7" y="251.9" width="7.8" height="8.6" fill="#fff"/>
<rect x="356.7" y="255.3" width="2.1" height="3.0" fill="#000" stroke="#000" stroke-width="0.3"/>
<rect x="364.5" y="252" width="2.3" height="1.7" fill="#fff"/>
<rect x="366" y="253.7" width="1" height="5.7" fill="#fff"/>
<rect x="364.5" y="258.6" width="1.5" height="1.9" fill="#fff"/>
<rect x="352.9" y="254" width="2.1" height="0.9" fill="#fff"/>
<rect x="337" y="254.9" width="14.2" height="5.3" fill="#fff"/>
<rect x="337.4" y="254.9" width="16.8" height="1.3" fill="#000" stroke="#000" stroke-width="0.3"/>
<rect x="339.2" y="256.2" width="15.0" height="2.5" fill="#fff"/>
<rect x="339.2" y="258.7" width="15.0" height="1.5" fill="#000" stroke="#000" stroke-width="0.3"/>
<rect x="337" y="253.2" width="1.7" height="5.5" fill="#000" stroke="#000" stroke-width="0.3"/>
<rect x="338.7" y="258.7" width="1.5" height="3.9" fill="#000" stroke="#000" stroke-width="0.3"/>
<rect x="351.3" y="254.8" width="1.1" height="1.0" fill="#b000b0"/>
<rect x="379.1" y="265.2" width="18.0" height="12.8" fill="#000" stroke="#000" stroke-width="0.3"/>
<rect x="377.8" y="275" width="19.3" height="3" fill="#000" stroke="#000" stroke-width="0.3"/>
<rect x="384.6" y="266.9" width="8.6" height="6.9" fill="#fff"/>
<rect x="392.2" y="269.3" width="1.8" height="3.0" fill="#000" stroke="#000" stroke-width="0.3"/>
<rect x="380.8" y="267.7" width="2.1" height="1.1" fill="#fff"/>
<rect x="365.3" y="269.3" width="15.5" height="1.4" fill="#000" stroke="#000" stroke-width="0.3"/>
<rect x="367" y="270.7" width="15" height="3.1" fill="#fff"/>
<rect x="367" y="273.8" width="13.8" height="1.2" fill="#000" stroke="#000" stroke-width="0.3"/>
<rect x="364.9" y="267.3" width="1.7" height="6.0" fill="#000" stroke="#000" stroke-width="0.3"/>
<rect x="366.6" y="273.3" width="1.3" height="3.5" fill="#000" stroke="#000" stroke-width="0.3"/>
<rect x="378.9" y="269.4" width="1.1" height="1.0" fill="#b000b0"/>
<g shape-rendering="crispEdges">
<rect x="140" y="278" width="106.5" height="1" fill="#100000" />
<rect x="140" y="279" width="106.5" height="1" fill="#f00000" />
<rect x="290" y="278" width="106" height="1" fill="#100000" />
<rect x="290" y="279" width="106" height="1" fill="#f00000" />
<rect x="396" y="278" width="81.5" height="1" fill="#100000" />
<rect x="396" y="279" width="81.5" height="1" fill="#f00000" />
<rect x="522.5" y="278" width="80.5" height="1" fill="#100000" />
<rect x="522.5" y="279" width="80.5" height="1" fill="#f00000" />
<rect x="116" y="299" width="230.5" height="1" fill="#f00000" />
<rect x="116" y="300" width="230.5" height="1" fill="#100000" />
<rect x="389.5" y="299" width="228.5" height="1" fill="#f00000" />
<rect x="389.5" y="300" width="228.5" height="1" fill="#100000" />
<rect x="129.5" y="350" width="244.0" height="1" fill="#a80000" />
<rect x="416.5" y="350" width="244.5" height="1" fill="#a80000" />
<rect x="116" y="364" width="257.5" height="1" fill="#a80000" />
<rect x="416.5" y="364" width="258.5" height="1" fill="#a80000" />
<rect x="115.8" y="280" width="1.4" height="22" fill="#f00000" />
<rect x="616.6" y="280" width="1.4" height="22" fill="#f00000" />
<rect x="115.8" y="350" width="1.4" height="17" fill="#f00000" />
<rect x="674.3" y="350" width="1.6" height="18" fill="#f00000" />
<rect x="129.5" y="350" width="1" height="4" fill="#f00000" />
<rect x="661" y="350" width="1" height="4.5" fill="#f00000" />
<rect x="395.7" y="277" width="1.3" height="5" fill="#f00000" />
<rect x="140" y="277" width="1.2" height="5" fill="#f00000" />
<rect x="602.2" y="276" width="1.5" height="4" fill="#f00000" />
</g>
<text x="247.6" y="283.7" font-size="12" font-weight="bold" text-anchor="start" fill="#000" style="font-family:&quot;Liberation Sans&quot;" textLength="42" lengthAdjust="spacingAndGlyphs" stroke="#000" stroke-width="0.2" >36.3750</text>
<text x="247" y="283.2" font-size="12" font-weight="bold" text-anchor="start" fill="#f00000" style="font-family:&quot;Liberation Sans&quot;" textLength="42" lengthAdjust="spacingAndGlyphs" stroke="#f00000" stroke-width="0.15" >36.3750</text>
<text x="478.6" y="283.7" font-size="12" font-weight="bold" text-anchor="start" fill="#000" style="font-family:&quot;Liberation Sans&quot;" textLength="44" lengthAdjust="spacingAndGlyphs" stroke="#000" stroke-width="0.2" >29.4774</text>
<text x="478" y="283.2" font-size="12" font-weight="bold" text-anchor="start" fill="#f00000" style="font-family:&quot;Liberation Sans&quot;" textLength="44" lengthAdjust="spacingAndGlyphs" stroke="#f00000" stroke-width="0.15" >29.4774</text>
<text x="347.6" y="304.7" font-size="12" font-weight="bold" text-anchor="start" fill="#000" style="font-family:&quot;Liberation Sans&quot;" textLength="42" lengthAdjust="spacingAndGlyphs" stroke="#000" stroke-width="0.2" >71.2500</text>
<text x="347" y="304.2" font-size="12" font-weight="bold" text-anchor="start" fill="#f00000" style="font-family:&quot;Liberation Sans&quot;" textLength="42" lengthAdjust="spacingAndGlyphs" stroke="#f00000" stroke-width="0.15" >71.2500</text>
<text x="374.6" y="355.7" font-size="12" font-weight="bold" text-anchor="start" fill="#000" style="font-family:&quot;Liberation Sans&quot;" textLength="42" lengthAdjust="spacingAndGlyphs" stroke="#000" stroke-width="0.2" >75.2500</text>
<text x="374" y="355.2" font-size="12" font-weight="bold" text-anchor="start" fill="#f00000" style="font-family:&quot;Liberation Sans&quot;" textLength="42" lengthAdjust="spacingAndGlyphs" stroke="#f00000" stroke-width="0.15" >75.2500</text>
<text x="374.6" y="369.7" font-size="12" font-weight="bold" text-anchor="start" fill="#000" style="font-family:&quot;Liberation Sans&quot;" textLength="42" lengthAdjust="spacingAndGlyphs" stroke="#000" stroke-width="0.2" >79.5000</text>
<text x="374" y="369.2" font-size="12" font-weight="bold" text-anchor="start" fill="#f00000" style="font-family:&quot;Liberation Sans&quot;" textLength="42" lengthAdjust="spacingAndGlyphs" stroke="#f00000" stroke-width="0.15" >79.5000</text>
<text x="98.8" y="374.2" font-size="8.6" font-weight="bold" text-anchor="start" fill="#000" style="font-family:&quot;Liberation Mono&quot;" textLength="80" lengthAdjust="spacingAndGlyphs" stroke="#000" stroke-width="0.3" >06-05 NARROW PATIO DOOR</text>
<text x="359.3" y="248.8" font-size="4.8" font-weight="bold" text-anchor="start" fill="#000" style="font-family:&quot;Liberation Sans&quot;" textLength="32" lengthAdjust="spacingAndGlyphs" stroke="#000" stroke-width="0.45" font-style="italic">DOOR ASSY</text>
<text x="357.5" y="318.7" font-size="4" font-weight="bold" text-anchor="start" fill="#000" style="font-family:&quot;Liberation Sans&quot;" textLength="30.5" lengthAdjust="spacingAndGlyphs" stroke="#000" stroke-width="0.4" font-style="italic">total assy</text>
</svg>
</body></html>
